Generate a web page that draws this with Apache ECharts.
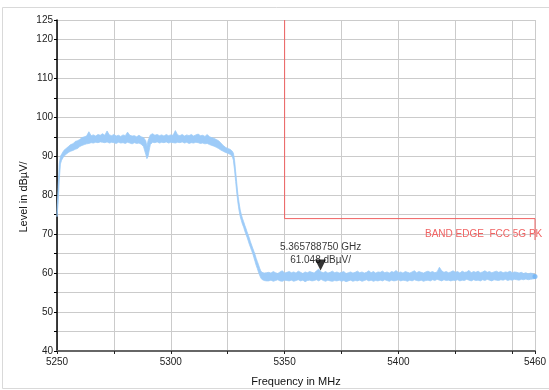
<!DOCTYPE html>
<html>
<head>
<meta charset="utf-8">
<script src="https://cdn.jsdelivr.net/npm/echarts@6/dist/echarts.min.js"></script>
<style>
html,body{margin:0;padding:0;background:#fff;}
#chart{width:549px;height:390px;}
</style>
</head>
<body>
<div id="chart"></div>
<script>
// Trace envelope, rows: [frequency MHz, low dBuV, high dBuV]
const riseEdge = [
  [5250,74.5,76],[5250.5,78,82],[5251,84,88],[5251.5,88,90],[5252,89,90.5]
];
const plateauA = [
  [5253,90,91.5],[5254,90.5,92],[5255,91,92.5],[5256,91.3,93],[5257,91.5,93.2],
  [5258,91.8,93.8],[5259,92,94],[5260,92.5,94.3],[5261,92.8,94.8],[5262,93,95],
  [5263,93.2,95.2],[5264,93.3,96.3],[5265,93.5,95.3],[5266,93.4,95.5],[5267,93.6,95.2],
  [5268,93.5,95.6],[5269,93.7,95.4],[5270,93.6,95.8],[5271,93.5,95.4],[5272,93.7,96.5],
  [5273,93.4,95.5],[5274,93.6,95.3],[5275,93.5,95.6],[5276,93.3,95.2],[5277,93.6,95.4],
  [5278,93.4,95.1],[5279,93.5,95.5],[5280,93.3,95.3],[5281,93.6,96.2],[5282,93.4,95.4],
  [5283,93.2,95.2],[5284,93.5,95.3],[5285,93.3,95.0],[5286,93.4,95.4],[5287,93.1,95.0],
  [5288,92.5,94.8],[5289,90.5,94.0],[5289.5,89.4,92.5]
];
const plateauB = [
  [5290,90,94],[5291,93,95.5],[5292,93.6,95.8],[5293,93.5,95.4],[5294,93.7,95.6],
  [5295,93.4,95.3],[5296,93.6,95.5],[5297,93.5,95.2],[5298,93.7,95.6],[5299,93.4,95.3],
  [5300,93.6,95.5],[5301,93.5,95.4],[5302,93.4,96.6],[5303,93.6,95.5],[5304,93.5,95.3],
  [5305,93.7,95.6],[5306,93.4,95.2],[5307,93.6,95.5],[5308,93.3,95.3],[5309,93.5,95.6],
  [5310,93.4,95.2],[5311,93.6,95.5],[5312,93.5,95.7],[5313,93.3,95.3],[5314,93.4,95.4],
  [5315,93.2,95.1],[5316,93.3,95.6],[5317,93.0,95.0],[5318,92.8,94.8],[5319,92.6,94.6],
  [5320,92.3,94.3],[5321,92.0,94.0],[5322,91.6,93.4],[5323,91.3,92.8],[5324,91.0,92.3],
  [5325,90.8,92.0],[5326,90.5,91.8],[5327,90.0,91.3]
];
const fallEdge = [
  [5327.5,89.0,90.8],[5328,86.5,89.0],[5328.5,83.5,86.0],[5329,80.5,83.0],[5329.5,78.0,80.0],
  [5330,76.0,78.0],[5330.5,74.5,76.2],[5331,73.5,75.0],[5331.5,72.5,74.0],[5332,71.8,73.2],
  [5332.5,70.8,72.3],[5333,70.0,71.5],[5333.5,69.2,70.6],[5334,68.3,69.8],[5334.5,67.4,69.0],
  [5335,66.6,68.0],[5335.5,65.8,67.2],[5336,65.0,66.4],[5336.5,64.0,65.6],[5337,63.0,64.8],
  [5337.5,62.0,63.8],[5338,61.2,63.0],[5338.5,60.3,62.2],[5339,59.5,61.3],[5339.5,58.8,60.6],
  [5340,58.4,60.2],[5341,58.1,60.0],[5342,58.0,60.1]
];
const noiseFloor = [
  [5343,58.0,60.2],[5344,58.2,60.0],[5345,57.9,60.4],[5346,58.1,60.1],[5347,58.3,59.9],
  [5348,58.0,60.3],[5349,57.9,60.6],[5350,58.2,60.0],[5351,58.1,60.2],[5352,58.0,60.4],
  [5353,58.2,60.1],[5354,57.9,60.3],[5355,58.1,60.0],[5356,58.3,60.5],[5357,58.0,60.2],
  [5358,58.2,59.9],[5359,57.8,60.3],[5360,58.1,60.1],[5361,58.2,60.4],[5362,58.0,60.2],
  [5363,58.1,60.0],[5364,58.3,60.6],[5365,58.0,61.0],[5366,58.4,60.3],[5367,58.1,60.1],
  [5368,57.9,60.4],[5369,58.2,60.0],[5370,58.0,60.2],[5371,57.9,60.5],[5372,58.1,60.1],
  [5373,58.0,60.3],[5374,58.2,60.0],[5375,57.9,60.2],[5376,58.1,60.4],[5377,57.8,59.9],
  [5378,58.0,60.1],[5379,58.2,60.3],[5380,57.9,60.0],[5381,58.1,60.2],[5382,58.0,60.5],
  [5383,58.2,60.1],[5384,57.9,60.3],[5385,58.1,60.0],[5386,58.3,60.2],[5387,58.0,60.6],
  [5388,58.2,60.1],[5389,57.9,60.4],[5390,58.1,60.0],[5391,58.0,60.3],[5392,58.2,60.2],
  [5393,58.0,60.5],[5394,58.3,60.1],[5395,58.1,60.3],[5396,57.9,60.0],[5397,58.2,60.4],
  [5398,58.0,60.2],[5399,58.1,60.7],[5400,58.3,60.1],[5401,58.0,60.3],[5402,58.2,60.0],
  [5403,58.1,60.4],[5404,57.9,60.2],[5405,58.2,60.0],[5406,58.0,60.3],[5407,58.3,60.6],
  [5408,58.1,60.1],[5409,58.0,60.4],[5410,58.2,60.2],[5411,57.9,60.0],[5412,58.1,60.3],
  [5413,58.2,60.5],[5414,58.0,60.2],[5415,58.3,60.4],[5416,58.1,60.1],[5417,58.4,60.3],
  [5418,58.2,61.5],[5419,58.0,60.6],[5420,58.3,60.2],[5421,58.1,60.4],[5422,58.2,60.1],
  [5423,58.0,60.3],[5424,58.2,60.6],[5425,58.1,60.2],[5426,58.3,60.4],[5427,58.0,60.0],
  [5428,58.2,60.5],[5429,58.1,60.2],[5430,58.4,60.3],[5431,58.2,60.7],[5432,58.0,60.1],
  [5433,58.3,60.4],[5434,58.1,60.2],[5435,58.2,60.5],[5436,58.0,60.1],[5437,58.3,60.3],
  [5438,58.1,60.6],[5439,58.4,60.2],[5440,58.2,60.4],[5441,58.0,60.1],[5442,58.3,60.3],
  [5443,58.2,60.5],[5444,58.1,60.2],[5445,58.3,60.4],[5446,58.2,60.1],[5447,58.4,60.3],
  [5448,58.1,60.2],[5449,58.3,60.5],[5450,58.2,60.1],[5451,58.4,60.3],[5452,58.3,60.2],
  [5453,58.2,60.0],[5454,58.4,60.2],[5455,58.3,59.9],[5456,58.5,60.1],[5457,58.3,59.8],
  [5458,58.4,60.0],[5459,58.5,59.9],[5460,58.6,59.6]
];

// Limit line (BAND EDGE FCC 5G PK)
const limitFreq = [5350, 5350, 5460, 5460];
const limitLevel = [125, 74, 74, 68.5];
const limitName = 'BAND EDGE  FCC 5G PK';

// Marker
const markerFreq = 5365.78875;
const markerLevel = 61.048;
const markerText = ['5.365788750 GHz', '61.048 dBµV/'];

// Axes
const xMin = 5250, xMax = 5460, xStep = 25;
const xLabels = [5250, 5300, 5350, 5400, 5460];
const yMin = 40, yMax = 125, yStep = 5;
const yLabels = [40, 50, 60, 70, 80, 90, 100, 110, 120, 125];
const xTitle = 'Frequency in MHz';
const yTitle = 'Level in dBµV/';

const FONT = 'Liberation Sans, Arial, sans-serif';
const TRACE = '#9dcbf8';

const trace = [].concat(riseEdge, plateauA, plateauB, fallEdge, noiseFloor);
const last = trace[trace.length - 1];
const limitData = limitFreq.map((f, i) => [f, limitLevel[i]]);

function renderBand(params, api) {
  if (params.dataIndex !== 0) return null;
  const upper = trace.map(r => api.coord([r[0], r[2]]));
  const lower = trace.map(r => api.coord([r[0], r[1]])).reverse();
  return {
    type: 'polygon',
    shape: {points: upper.concat(lower)},
    style: {fill: TRACE, stroke: TRACE, lineWidth: 0.8}
  };
}

const chart = echarts.init(document.getElementById('chart'), null, {renderer: 'canvas'});
chart.setOption({
  animation: false,
  backgroundColor: '#fff',
  textStyle: {fontFamily: FONT},
  grid: {left: 57, right: 14, top: 20, bottom: 39, containLabel: false, outerBoundsMode: 'none'},
  xAxis: {
    type: 'value', min: xMin, max: xMax, interval: xStep,
    name: xTitle, nameLocation: 'middle', nameGap: 25,
    nameTextStyle: {fontSize: 11, color: '#111', fontFamily: FONT},
    axisLine: {show: true, onZero: false, lineStyle: {color: '#666', width: 2}},
    axisTick: {show: true, length: 3, lineStyle: {color: '#222'}},
    axisLabel: {
      fontSize: 10, color: '#222', margin: 6, fontFamily: FONT,
      formatter: v => xLabels.indexOf(v) >= 0 ? String(v) : ''
    },
    splitLine: {show: true, lineStyle: {color: '#cbcbcb', width: 1}}
  },
  yAxis: {
    type: 'value', min: yMin, max: yMax, interval: yStep,
    axisLine: {show: true, onZero: false, lineStyle: {color: '#000', width: 1.5}},
    axisTick: {show: true, length: 3, lineStyle: {color: '#000'}},
    axisLabel: {
      fontSize: 10, color: '#222', margin: 4, fontFamily: FONT,
      formatter: v => yLabels.indexOf(v) >= 0 ? String(v) : ''
    },
    splitLine: {show: true, lineStyle: {color: '#cbcbcb', width: 1}}
  },
  series: [
    {
      type: 'custom', name: 'trace', data: trace,
      encode: {x: 0, y: [1, 2]},
      renderItem: renderBand, z: 3, silent: true
    },
    {
      type: 'scatter', name: 'end', data: [[last[0], (last[1] + last[2]) / 2]],
      symbol: 'circle', symbolSize: 5, itemStyle: {color: '#6fb3f5'}, z: 4
    },
    {
      type: 'line', name: 'limit', data: limitData,
      showSymbol: false, symbol: 'none',
      lineStyle: {color: '#f06262', width: 1}, z: 5
    },
    {
      type: 'scatter', name: 'marker', data: [[markerFreq, markerLevel]],
      symbol: 'path://M0,0 L10,0 L5,10 Z', symbolSize: [11, 11], symbolOffset: [0, -4],
      itemStyle: {color: '#000'}, z: 6,
      label: {
        show: true, position: 'inside', offset: [0, -11],
        formatter: markerText.join('\n'), fontSize: 10, lineHeight: 13,
        color: '#000', fontFamily: FONT
      }
    }
  ],
  graphic: [
    {
      type: 'rect', silent: true, z: -10,
      shape: {x: 2.5, y: 7.5, width: 560, height: 381},
      style: {fill: 'none', stroke: '#d9d9d9', lineWidth: 1}
    },
    {
      type: 'text', silent: true, z: 10, left: 425, top: 229,
      style: {text: limitName, fill: '#f06262', font: '10px ' + FONT}
    },
    {
      type: 'text', silent: true, z: 10, x: 24, y: 197, rotation: Math.PI / 2,
      style: {text: yTitle, fill: '#111', font: '11px ' + FONT, align: 'center', verticalAlign: 'middle'}
    }
  ]
});
</script>
</body>
</html>
